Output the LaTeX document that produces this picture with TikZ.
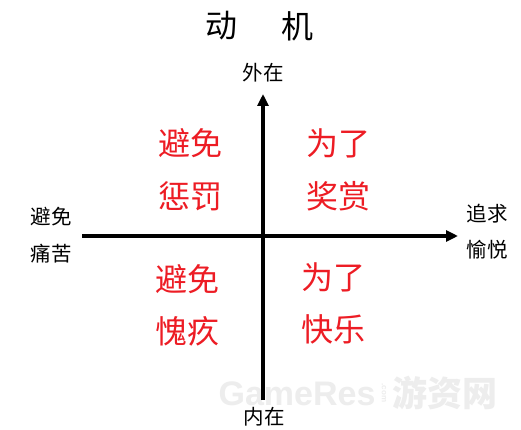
\documentclass[tikz,border=0pt]{standalone}
\usepackage{fontspec}
\setmainfont{Liberation Sans}
\newfontfamily\cjk{Noto Sans CJK SC}
\newfontfamily\wmfont{Liberation Sans}
\usetikzlibrary{arrows.meta}
\definecolor{redtxt}{RGB}{237,28,36}
\tikzset{
  axis/.style={line width=4.2pt, -{Triangle[length=12pt,width=11pt]}},
  blacklab/.style={font=\cjk\fontsize{20.5}{20.5}\selectfont, text=black, inner sep=0pt},
  redlab/.style={font=\cjk\fontsize{32}{32}\selectfont, text=redtxt, inner sep=0pt},
  titlelab/.style={font=\cjk\fontsize{32}{32}\selectfont, text=black, inner sep=0pt},
  wm/.style={inner sep=0pt, text=gray!14}
}
\begin{document}
\begin{tikzpicture}[x=1pt,y=-1pt]
\useasboundingbox[fill=white] (0,0) rectangle (521,430);
% watermark
\node[wm, font=\wmfont\bfseries\fontsize{34}{34}\selectfont] (wm1) at (297,394) {GameRes};
\node[wm, font=\wmfont\bfseries\fontsize{8}{8}\selectfont, rotate=-90] (wm3) at (384,393) {.com};
\node[wm, font=\cjk\bfseries\fontsize{35}{35}\selectfont] (wm2) at (445,393) {游资网};
% axes
\coordinate (vb) at (263,400);
\coordinate (vt) at (263,94);
\coordinate (hl) at (82,236);
\coordinate (hr) at (458,236);
\draw[axis] (vb) -- (vt);
\draw[axis] (hl) -- (hr);
% title and axis labels
\node[titlelab] (t1) at (221,26) {动};
\node[titlelab] (t2) at (297,26) {机};
\node[blacklab] (top) at (263,73) {外在};
\node[blacklab] (bot) at (264,417) {内在};
\node[blacklab] (l1) at (51,217) {避免};
\node[blacklab] (l2) at (51,254) {痛苦};
\node[blacklab] (r1) at (487,214) {追求};
\node[blacklab] (r2) at (487,250) {愉悦};
% red quadrant labels
\node[redlab] (q1a) at (190,143) {避免};
\node[redlab] (q1b) at (190,196) {惩罚};
\node[redlab] (q2a) at (338,143) {为了};
\node[redlab] (q2b) at (338,196) {奖赏};
\node[redlab] (q3a) at (187,279) {避免};
\node[redlab] (q3b) at (187,331) {愧疚};
\node[redlab] (q4a) at (333,277) {为了};
\node[redlab] (q4b) at (333,329) {快乐};
\end{tikzpicture}
\end{document}
